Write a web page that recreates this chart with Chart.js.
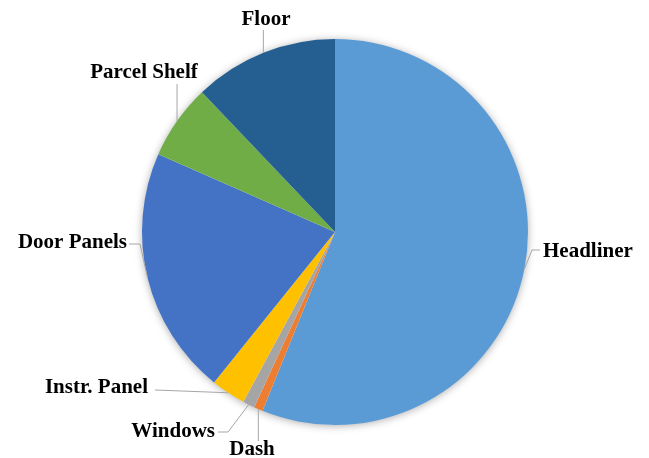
<!DOCTYPE html>
<html>
<head>
<meta charset="utf-8">
<script src="https://cdn.jsdelivr.net/npm/chart.js@4"></script>
<style>
  html, body { margin: 0; padding: 0; background: #ffffff; }
  #wrap { width: 649px; height: 458px; position: relative; }
</style>
</head>
<body>
<div id="wrap"><canvas id="c" width="649" height="458"></canvas></div>
<script>
// ---- data ----
const categories = ["Headliner", "Dash", "Windows", "Instr. Panel", "Door Panels", "Parcel Shelf", "Floor"];
const shares = [56.1, 0.75, 1.0, 2.9, 20.8, 6.3, 12.1];
const colors = ["#5B9BD5", "#ED7D31", "#A5A5A5", "#FFC000", "#4472C4", "#70AD47", "#255E91"];

// ---- label layout (text anchor + leader elbows) ----
const labelLayout = [
  { x: 543, y: 252, align: "left",   path: [[532, 250], [540, 250]] },
  { x: 252, y: 450, align: "center", path: [["arc", 441]] },
  { x: 215, y: 432, align: "right",  path: [[228, 432], [218, 432]] },
  { x: 148, y: 388, align: "right",  path: [[155, 390]] },
  { x: 127, y: 243, align: "right",  path: [[140, 244], [129, 244]] },
  { x: 144, y: 73,  align: "center", path: [["arc", 84]] },
  { x: 266, y: 20,  align: "center", path: [["arc", 30]] }
];

const shadowPlugin = {
  id: "pieShadow",
  beforeDatasetsDraw(chart) {
    const arc = chart.getDatasetMeta(0).data[0];
    if (!arc) return;
    const ctx = chart.ctx;
    ctx.save();
    ctx.shadowColor = "rgba(0,0,0,0.35)";
    ctx.shadowBlur = 9;
    ctx.shadowOffsetX = 0;
    ctx.shadowOffsetY = 1;
    ctx.fillStyle = "#ffffff";
    ctx.beginPath();
    ctx.arc(arc.x, arc.y, arc.outerRadius - 0.5, 0, Math.PI * 2);
    ctx.fill();
    ctx.restore();
  }
};

const labelPlugin = {
  id: "leaderLabels",
  afterDatasetsDraw(chart) {
    const ctx = chart.ctx;
    const meta = chart.getDatasetMeta(0);
    meta.data.forEach((el, i) => {
      const mid = (el.startAngle + el.endAngle) / 2;
      const ax = el.x + Math.cos(mid) * el.outerRadius;
      const ay = el.y + Math.sin(mid) * el.outerRadius;
      const L = labelLayout[i];
      ctx.save();
      ctx.strokeStyle = "#a6a6a6";
      ctx.lineWidth = 1;
      ctx.beginPath();
      ctx.moveTo(ax, ay);
      L.path.forEach(p => {
        const px = p[0] === "arc" ? ax : p[0];
        ctx.lineTo(px, p[1]);
      });
      ctx.stroke();
      ctx.fillStyle = "#000000";
      ctx.font = "bold 21px 'Liberation Serif', 'Times New Roman', serif";
      ctx.textAlign = L.align;
      ctx.textBaseline = "middle";
      ctx.fillText(categories[i], L.x, L.y);
      ctx.restore();
    });
  }
};

new Chart(document.getElementById("c"), {
  type: "pie",
  data: {
    labels: categories,
    datasets: [{
      data: shares,
      backgroundColor: colors,
      borderWidth: 0,
      hoverOffset: 0
    }]
  },
  options: {
    responsive: false,
    animation: false,
    layout: { padding: { left: 142, right: 121, top: 39, bottom: 33 } },
    plugins: {
      legend: { display: false },
      tooltip: { enabled: false }
    }
  },
  plugins: [shadowPlugin, labelPlugin]
});
</script>
</body>
</html>
